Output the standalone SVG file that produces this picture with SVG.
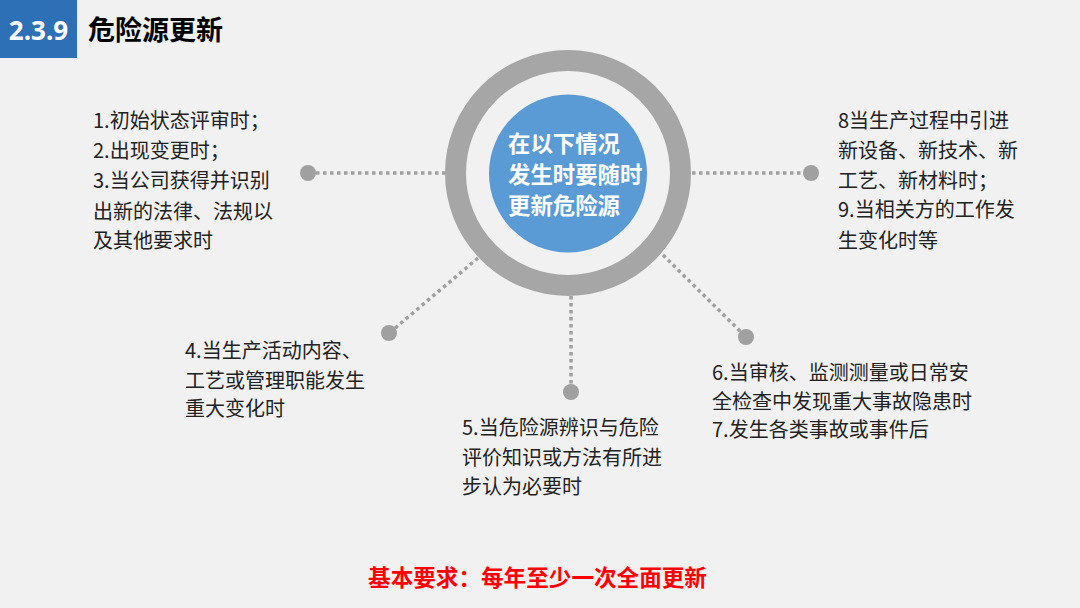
<svg xmlns="http://www.w3.org/2000/svg" width="1080" height="608" viewBox="0 0 1080 608">
<style>
.item{font-family:"Microsoft YaHei","Noto Sans CJK SC",sans-serif;font-size:20px;fill:#222222}
.conn{stroke:#a0a0a0;stroke-width:3.5;stroke-dasharray:3.5 3.5;fill:none}
.dot{fill:#a0a0a0}
</style>
<rect x="0" y="0" width="1080" height="608" fill="#f1f1f1"/>
<g id="header">
<rect x="0" y="0" width="77" height="58" fill="#2e70b6"/>
<text x="38.5" y="40" text-anchor="middle" font-family="'Open Sans','Noto Sans',sans-serif" font-weight="bold" font-size="26" fill="#ffffff">2.3.9</text>
<text x="88" y="40" font-family="'Noto Sans CJK SC',sans-serif" font-weight="bold" font-size="27" fill="#000000">危险源更新</text>
</g>
<g id="connectors">
<line class="conn" x1="316" y1="173" x2="445" y2="173"/>
<line class="conn" x1="692" y1="173" x2="803" y2="173"/>
<line class="conn" x1="478" y1="258" x2="394" y2="329"/>
<line class="conn" x1="571" y1="296" x2="571" y2="385"/>
<line class="conn" x1="663" y1="255" x2="741" y2="332"/>
</g>
<g id="center">
<circle cx="568" cy="173" r="112.5" fill="none" stroke="#a6a6a6" stroke-width="21"/>
<circle cx="568" cy="173.5" r="79" fill="#5b9bd5"/>
<g font-family="'Noto Sans CJK SC',sans-serif" font-weight="bold" font-size="22.4" fill="#ffffff">
<text x="508" y="152">在以下情况</text>
<text x="508" y="183">发生时要随时</text>
<text x="508" y="214">更新危险源</text>
</g>
</g>
<g id="node-left">
<circle class="dot" cx="308" cy="173" r="8"/>
<text class="item" x="93" y="128">1.初始状态评审时；</text>
<text class="item" x="93" y="158">2.出现变更时；</text>
<text class="item" x="93" y="188">3.当公司获得并识别</text>
<text class="item" x="93" y="219">出新的法律、法规以</text>
<text class="item" x="93" y="248">及其他要求时</text>
</g>
<g id="node-right">
<circle class="dot" cx="811" cy="173" r="8"/>
<text class="item" x="838" y="128">8当生产过程中引进</text>
<text class="item" x="838" y="158">新设备、新技术、新</text>
<text class="item" x="838" y="188">工艺、新材料时；</text>
<text class="item" x="838" y="217">9.当相关方的工作发</text>
<text class="item" x="838" y="248">生变化时等</text>
</g>
<g id="node-4">
<circle class="dot" cx="389" cy="333" r="8"/>
<text class="item" x="185" y="358">4.当生产活动内容、</text>
<text class="item" x="185" y="388">工艺或管理职能发生</text>
<text class="item" x="185" y="416">重大变化时</text>
</g>
<g id="node-5">
<circle class="dot" cx="571" cy="392" r="8"/>
<text class="item" x="462" y="435">5.当危险源辨识与危险</text>
<text class="item" x="462" y="465">评价知识或方法有所进</text>
<text class="item" x="462" y="494">步认为必要时</text>
</g>
<g id="node-6">
<circle class="dot" cx="746" cy="337" r="8"/>
<text class="item" x="712" y="380">6.当审核、监测测量或日常安</text>
<text class="item" x="712" y="409">全检查中发现重大事故隐患时</text>
<text class="item" x="712" y="437">7.发生各类事故或事件后</text>
</g>
<g id="footer">
<text x="537.5" y="586" text-anchor="middle" font-family="'Noto Sans CJK SC',sans-serif" font-weight="bold" font-size="22.6" fill="#ff0000">基本要求：每年至少一次全面更新</text>
</g>
</svg>
